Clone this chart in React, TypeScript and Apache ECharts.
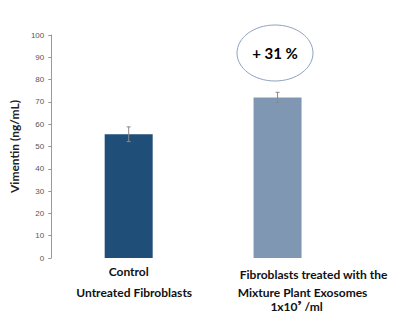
import React, { useEffect, useRef } from "react";
import * as echarts from "echarts";

const categories = [
  "Control\nUntreated Fibroblasts",
  "Fibroblasts treated with the\nMixture Plant Exosomes\n1x10⁹ /ml",
];
const values = [55.5, 72];
const errors = [3.3, 2.3];
const barColors = ["#1f4e79", "#8097b4"];
const yTicks = { min: 0, max: 100, interval: 10 };
const annotation = "+ 31 %";

export default function App() {
  const ref = useRef<HTMLDivElement>(null);
  useEffect(() => {
    if (!ref.current) return;
    const chart = echarts.init(ref.current, undefined, { renderer: "svg" });
    const font = "Lato";
    const base = { fontFamily: font, fontWeight: "bold", fontSize: 12, color: "#111" };
    chart.setOption({
      animation: false,
      backgroundColor: "#ffffff",
      grid: { left: 46, right: 48, top: 35, bottom: 67 },
      xAxis: {
        type: "category",
        data: categories,
        axisLine: { show: false },
        axisTick: { show: false },
        axisLabel: {
          interval: 0,
          margin: 6,
          ...base,
          formatter: (v: string, i: number) => {
            const lines = v.split("\n");
            if (i === 0) return `{a|${lines[0]}}\n{b|${lines[1]}}`;
            return `{c|${lines[0]}}\n{d|${lines[1]}}\n{e|${lines[2]}}`;
          },
          rich: {
            a: { ...base, lineHeight: 14 },
            b: { ...base, lineHeight: 28, padding: [0, 0, 0, 11] },
            c: { ...base, lineHeight: 20, padding: [0, 0, 0, 72] },
            d: { ...base, lineHeight: 16, padding: [0, 0, 0, 50] },
            e: { ...base, lineHeight: 12, padding: [0, 0, 0, 38] },
          },
        },
      },
      yAxis: {
        type: "value",
        min: yTicks.min,
        max: yTicks.max,
        interval: yTicks.interval,
        offset: 3,
        name: "Vimentin (ng/mL)",
        nameLocation: "middle",
        nameGap: 27,
        nameRotate: 90,
        nameTextStyle: { fontFamily: font, fontWeight: "bold", fontSize: 12, color: "#222" },
        axisLine: { show: true, lineStyle: { color: "#999", width: 1 } },
        axisTick: { show: true, length: 3, lineStyle: { color: "#999" } },
        splitLine: { show: false },
        axisLabel: { fontFamily: "Liberation Sans", fontSize: 8, color: "#555", margin: 7 },
      },
      series: [
        {
          type: "bar",
          barWidth: 48,
          data: values.map((v, i) => ({ value: v, itemStyle: { color: barColors[i] } })),
        },
        {
          type: "custom",
          data: values.map((v, i) => [i, v - errors[i], v + errors[i]]),
          renderItem: (params: any, api: any) => {
            const x = api.value(0);
            const lo = api.coord([x, api.value(1)]);
            const hi = api.coord([x, api.value(2)]);
            const c = 2;
            const st = { stroke: "#8a8a8a", lineWidth: 1 };
            return {
              type: "group",
              children: [
                { type: "line", shape: { x1: hi[0], y1: hi[1], x2: lo[0], y2: lo[1] }, style: st },
                { type: "line", shape: { x1: hi[0] - c, y1: hi[1], x2: hi[0] + c, y2: hi[1] }, style: st },
                { type: "line", shape: { x1: lo[0] - c, y1: lo[1], x2: lo[0] + c, y2: lo[1] }, style: st },
              ],
            };
          },
          z: 5,
        },
      ],
      graphic: [
        {
          type: "ellipse",
          shape: { cx: 275, cy: 53, rx: 38, ry: 28 },
          style: { fill: "#fff", stroke: "#8ea3c0", lineWidth: 1 },
        },
        {
          type: "text",
          x: 275,
          y: 53,
          style: {
            text: annotation,
            fontFamily: font,
            fontWeight: "bold",
            fontSize: 15,
            fill: "#000",
            align: "center",
            verticalAlign: "middle",
          },
        },
      ],
    });
    return () => chart.dispose();
  }, []);
  return (
    <div
      ref={ref}
      style={{ position: "absolute", left: 0, top: 0, width: 400, height: 325 }}
    />
  );
}
